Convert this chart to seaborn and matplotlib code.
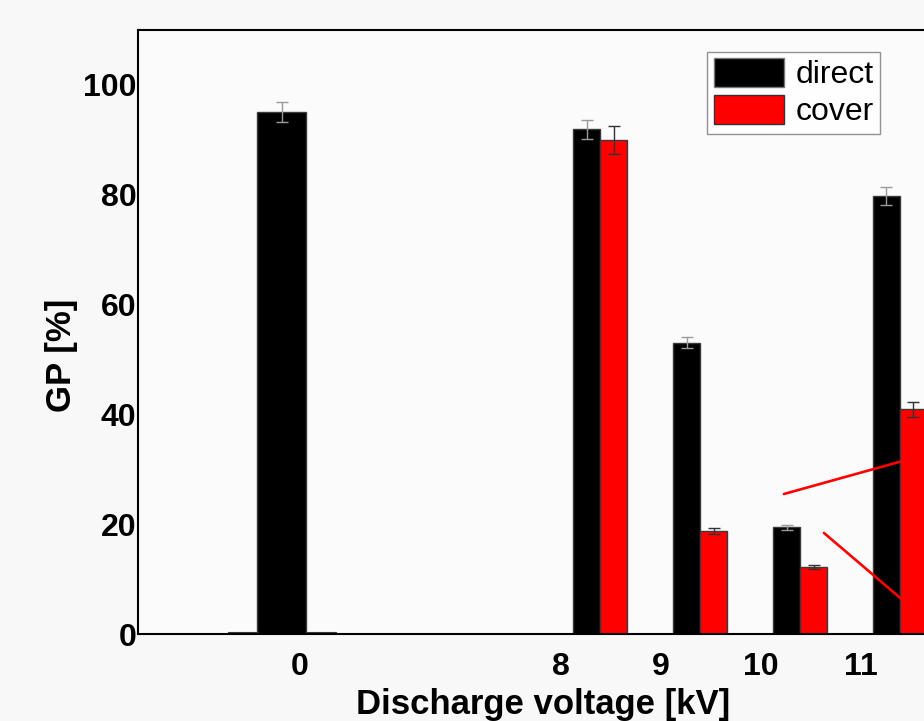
import numpy as np
import pandas as pd
import matplotlib.pyplot as plt
from matplotlib.patches import Patch
import seaborn as sns

# GP [%]
voltages = [8, 9, 10, 11]
direct = [91.9, 53.0, 19.4, 79.8]
direct_err = [1.8, 1.0, 0.4, 1.6]
cover = [90.0, 18.8, 12.2, 40.9]
cover_err = [2.6, 0.55, 0.4, 1.3]
control = [95.0]
control_err = [1.8]
control_side = [0.3, 0.3]
tick_labels = ["0", "8", "9", "10", "11"]

sns.set_theme(style="white")
plt.rcParams["font.family"] = ["Liberation Sans", "DejaVu Sans"]
plt.rcParams.update({"text.color": "black", "axes.labelcolor": "black",
                     "xtick.color": "black", "ytick.color": "black"})

df = pd.DataFrame({
    "kV": voltages * 2,
    "GP": direct + cover,
    "mode": ["direct"] * len(voltages) + ["cover"] * len(voltages),
})

fig = plt.figure(figsize=(9.24, 7.21), dpi=100)
fig.patch.set_facecolor("#f8f8f8")
ax = fig.add_axes([138 / 924, 87 / 721, 810 / 924, 604 / 721])
ax.set_facecolor("#fbfbfb")

sns.barplot(data=df, x="kV", y="GP", hue="mode", native_scale=True, width=0.54,
            palette={"direct": "black", "cover": "red"}, saturation=1,
            edgecolor="#3a3a3a", linewidth=1, errorbar=None, legend=False, ax=ax)

# control group sits left of the voltage groups
ctrl_x = 4.815
sns.barplot(x=[ctrl_x], y=control, native_scale=True, width=0.49, color="black",
            saturation=1, edgecolor="#3a3a3a", linewidth=1, errorbar=None, ax=ax)
sns.barplot(x=[4.43, 5.215], y=control_side, native_scale=True, width=0.38,
            color="black", saturation=1, edgecolor="#3a3a3a", linewidth=0.8,
            errorbar=None, ax=ax)

off = 0.135
ax.errorbar([ctrl_x], control, yerr=control_err, fmt="none", ecolor="#9a9a9a",
            elinewidth=1, capsize=4.5, capthick=1, zorder=5)
ax.errorbar(np.array(voltages) - off, direct, yerr=direct_err, fmt="none",
            ecolor="#9a9a9a", elinewidth=1, capsize=4.5, capthick=1, zorder=5)
ax.errorbar(np.array(voltages) + off, cover, yerr=cover_err, fmt="none",
            ecolor="#333333", elinewidth=1, capsize=4.5, capthick=1, zorder=5)

# zoom indicator lines running off the right edge
ax.plot([9.84, 11.4], [25.5, 33.4], color="red", lw=1.9, zorder=6, clip_on=False)
ax.plot([10.24, 11.2], [18.4, 3.5], color="red", lw=1.9, zorder=6, clip_on=False)

ax.set_xlim(3.38, 11.48)
ax.set_ylim(0, 110)
ax.set_yticks([0, 20, 40, 60, 80, 100])
ax.set_xticks([5.0] + [v - 0.39 for v in voltages])
ax.set_xticklabels(tick_labels)
ax.tick_params(axis="both", length=0, labelsize=23)
ax.tick_params(axis="y", pad=1)
ax.tick_params(axis="x", pad=13)
for lab in ax.get_xticklabels() + ax.get_yticklabels():
    lab.set_fontweight("bold")

ax.set_xlabel("Discharge voltage [kV]", fontsize=25, fontweight="bold", labelpad=4)
ax.set_ylabel("GP [%]", fontsize=25, fontweight="bold")
ax.yaxis.set_label_coords(-0.074, 0.462)

for side in ["left", "top", "bottom", "right"]:
    ax.spines[side].set_color("black")
    ax.spines[side].set_linewidth(1.5)

handles = [Patch(facecolor="black", edgecolor="#777777", label="direct"),
           Patch(facecolor="red", edgecolor="#333333", label="cover")]
leg = ax.legend(handles=handles, loc="upper right", bbox_to_anchor=(0.916, 0.964),
                borderaxespad=0, fontsize=23, frameon=True, fancybox=False,
                handlelength=2.2, handleheight=1.0, labelspacing=0.15,
                handletextpad=0.35, borderpad=0.2)
leg.get_frame().set_edgecolor("#777777")
leg.get_frame().set_linewidth(1)
leg.get_frame().set_facecolor("white")

fig.savefig("out.png", dpi=100, facecolor=fig.get_facecolor())
